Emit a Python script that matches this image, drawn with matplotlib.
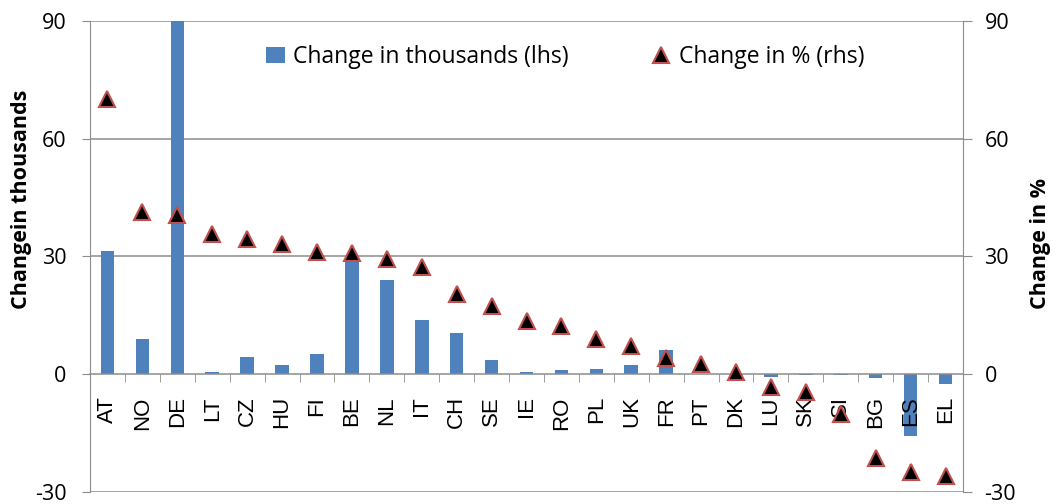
import matplotlib.pyplot as plt
from matplotlib.lines import Line2D
from matplotlib.patches import Patch
import numpy as np

countries = ['AT', 'NO', 'DE', 'LT', 'CZ', 'HU', 'FI', 'BE', 'NL', 'IT', 'CH', 'SE',
             'IE', 'RO', 'PL', 'UK', 'FR', 'PT', 'DK', 'LU', 'SK', 'SI', 'BG', 'ES', 'EL']
change_thousands = [31.4, 8.8, 100.0, 0.6, 4.3, 2.4, 5.2, 29.0, 24.0, 13.8, 10.5, 3.5,
                    0.5, 1.0, 1.2, 2.4, 6.2, 0.1, 0.1, -0.7, -0.3, -0.2, -1.1, -15.8, -2.6]
change_pct = [70.2, 41.2, 40.6, 35.7, 34.4, 33.2, 31.0, 30.8, 29.2, 27.4, 20.3, 17.3,
              13.5, 12.3, 8.8, 7.1, 4.0, 2.5, 0.6, -3.2, -4.5, -10.2, -21.5, -24.9, -26.1]
yticks = [-30, 0, 30, 60, 90]

blue = '#4F81BD'
red = '#C0504D'
grey = '#8C8C8C'

plt.rcParams['font.family'] = ['Open Sans', 'DejaVu Sans']
plt.rcParams['axes.unicode_minus'] = False

fig = plt.figure(figsize=(10.53, 5.04), dpi=100)
ax = fig.add_axes([0.0855, 0.0244, 0.829, 0.934])
x = np.arange(len(countries))

# bars sit under the x axis so the country names stay readable on top of them
ax.bar(x, change_thousands, width=0.39, color=blue, zorder=1)
ax.set_xlim(-0.5, len(countries) - 0.5)
ax.set_ylim(-30, 90)
ax.set_yticks(yticks)
ax.tick_params(axis='y', length=6, color=grey, labelsize=15.5, pad=11)
for y in [-30, 30, 60, 90]:
    ax.axhline(y, color=grey, lw=1.1, zorder=0.5)

ax.spines['top'].set_visible(False)
ax.spines['right'].set_visible(False)
ax.spines['left'].set_color(grey)
ax.spines['bottom'].set_position(('data', 0))
ax.spines['bottom'].set_color(grey)
ax.spines['bottom'].set_linewidth(1.1)
ax.set_xticks(x)
ax.set_xticklabels(countries, rotation=90, fontsize=16, family=['Liberation Sans'])
ax.set_xticks(np.arange(0.5, len(countries) - 1, 1), minor=True)
ax.tick_params(axis='x', which='major', length=0, pad=16)
ax.tick_params(axis='x', which='minor', length=6, color=grey)
ax.set_ylabel('Changein thousands', fontsize=15.5, fontweight='bold')
ax.yaxis.set_label_coords(-0.066, 0.622)

ax2 = ax.twinx()
ax2.plot(x, change_pct, linestyle='none', marker='^', markersize=11.5,
         markerfacecolor='black', markeredgecolor=red, markeredgewidth=1.5, zorder=5)
ax2.set_ylim(-30, 90)
ax2.set_yticks(yticks)
ax2.tick_params(axis='y', length=6.5, color=grey, labelsize=15.5, pad=9)
for s in ['top', 'left', 'bottom']:
    ax2.spines[s].set_visible(False)
ax2.spines['right'].set_color(grey)
ax2.set_ylabel('Change in %', fontsize=15.5, fontweight='bold')
ax2.yaxis.set_label_coords(1.077, 0.527)

handles = [Patch(facecolor=blue, edgecolor='none'),
           Line2D([], [], linestyle='none', marker='^', markersize=11,
                  markerfacecolor='black', markeredgecolor=red, markeredgewidth=1.5)]
ax2.legend(handles, ['Change in thousands (lhs)', 'Change in % (rhs)'], ncol=2,
           loc='center', bbox_to_anchor=(0.544, 0.9235), frameon=False, fontsize=16.5,
           handlelength=0.85, handletextpad=0.35, columnspacing=3.6)

fig.savefig('out.png', dpi=100)
